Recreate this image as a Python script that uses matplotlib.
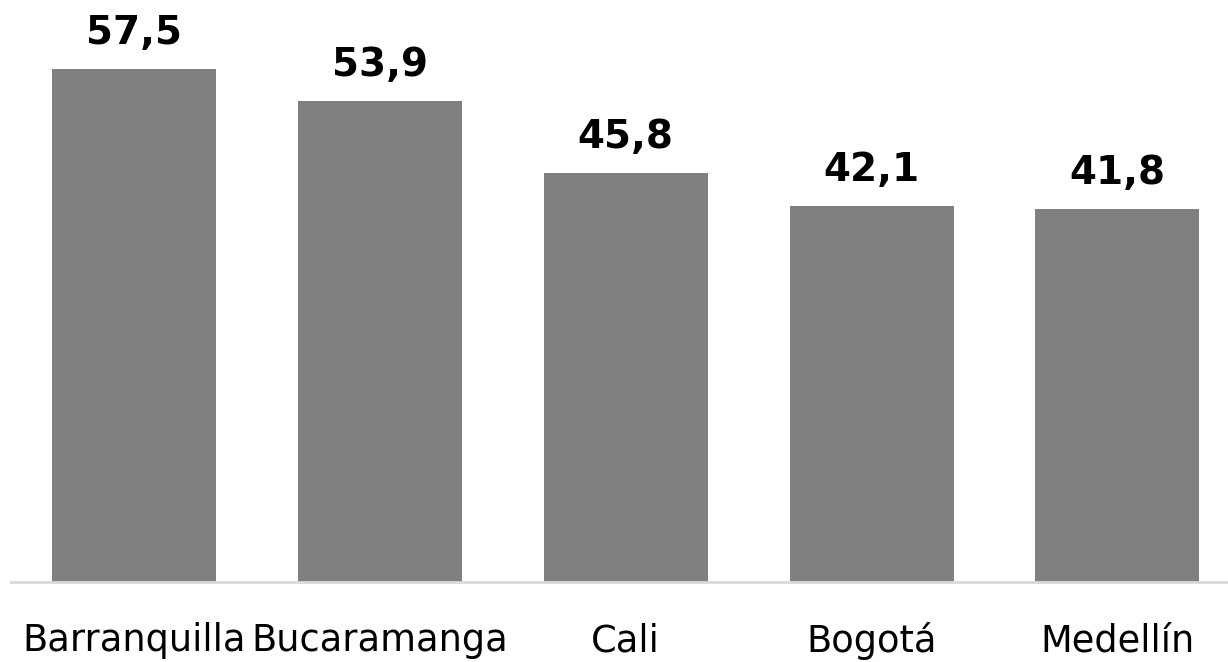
import matplotlib.pyplot as plt

cities = ['Barranquilla', 'Bucaramanga', 'Cali', 'Bogotá', 'Medellín']
values = [57.5, 53.9, 45.8, 42.1, 41.8]
value_labels = ['57,5', '53,9', '45,8', '42,1', '41,8']

fig = plt.figure(figsize=(12.28, 6.62), dpi=100)
ax = fig.add_axes([0.009, 0.1208, 0.991, 0.876])

x = range(len(cities))
bars = ax.bar(x, values, width=0.667, color='#808080')

for xi, v, lab in zip(x, values, value_labels):
    ax.annotate(lab, (xi, v), xytext=(0, 18), textcoords='offset points',
                ha='center', va='baseline', fontsize=28, fontweight='bold',
                family='DejaVu Sans', color='black')

ax.set_xlim(-0.5, 4.45)
ax.set_ylim(0, 65)
ax.set_yticks([])
ax.set_xticks(list(x))
ax.set_xticklabels(cities, family='DejaVu Sans', fontsize=26.5)
ax.tick_params(axis='x', length=0, pad=29)
for s in ['top', 'right', 'left']:
    ax.spines[s].set_visible(False)
ax.spines['bottom'].set_color('#d9d9d9')
ax.spines['bottom'].set_linewidth(2)

fig.savefig('out.png', dpi=100)
